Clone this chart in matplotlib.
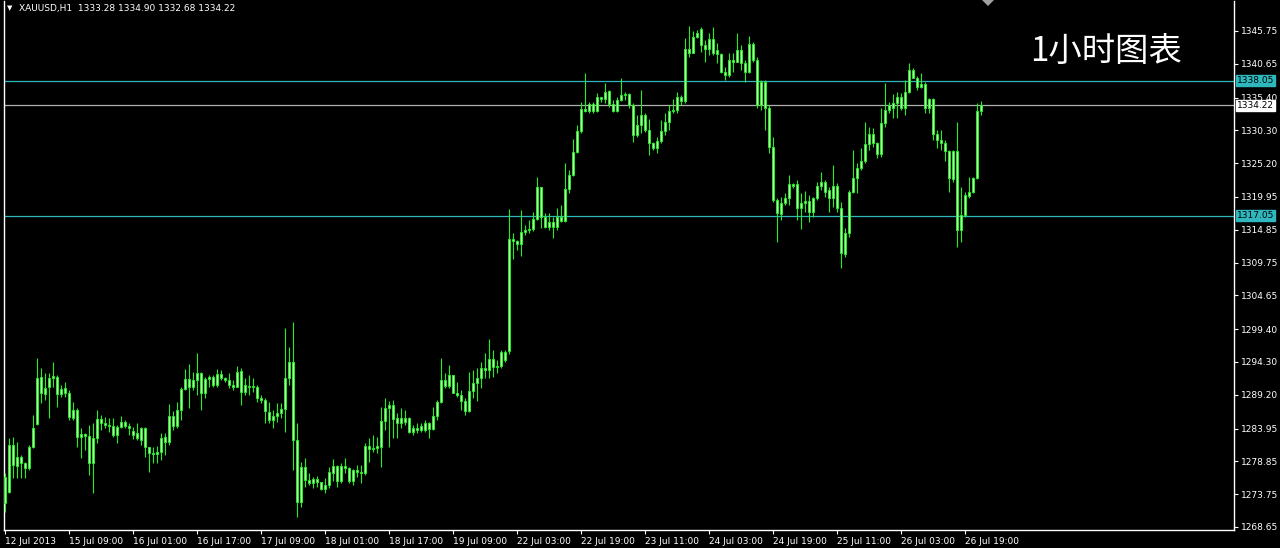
import matplotlib
matplotlib.use("Agg")
import matplotlib.pyplot as plt
from matplotlib.transforms import blended_transform_factory
from matplotlib.patches import Polygon
import numpy as np

# ---------------- data (XAUUSD H1) ----------------
opens = [1272.4,1274.1,1281.4,1279.5,1278.6,1278.6,1277.8,1281.1,1284.7,1291.9,
 1289.3,1290.4,1291.8,1292.0,1289.3,1290.3,1289.5,1285.6,1286.8,1282.6,
 1283.1,1282.8,1278.6,1282.5,1285.4,1284.8,1284.5,1284.3,1282.9,1284.2,
 1285.0,1284.4,1283.6,1282.5,1282.2,1284.0,1281.1,1280.2,1280.0,1280.3,
 1282.6,1281.9,1285.9,1284.3,1286.8,1290.1,1291.7,1290.4,1291.5,1292.6,
 1289.5,1291.7,1292.0,1290.7,1291.8,1291.8,1291.5,1290.7,1290.4,1292.9,
 1289.6,1290.6,1290.4,1290.4,1288.7,1288.4,1286.5,1285.3,1285.9,1286.4,
 1287.0,1291.8,1294.3,1282.2,1272.5,1278.0,1275.9,1275.5,1276.1,1275.6,
 1274.6,1275.2,1277.0,1278.1,1275.8,1278.1,1277.8,1275.8,1277.5,1277.2,
 1277.0,1281.2,1280.8,1281.0,1281.1,1285.1,1287.2,1287.6,1285.6,1284.8,
 1285.6,1285.6,1283.4,1284.0,1283.7,1283.7,1284.8,1283.9,1285.9,1288.1,
 1291.5,1290.6,1292.3,1289.5,1289.2,1288.2,1286.7,1289.8,1291.0,1291.8,
 1293.4,1293.1,1294.8,1293.5,1293.7,1295.9,1296.0,1313.4,1313.1,1312.6,
 1314.5,1314.8,1315.0,1316.5,1321.5,1316.8,1315.3,1316.1,1315.3,1316.2,
 1316.2,1321.2,1323.4,1326.9,1330.2,1333.6,1333.3,1334.4,1333.3,1335.5,
 1335.2,1336.4,1334.4,1333.3,1335.0,1335.8,1336.0,1334.2,1329.6,1331.1,
 1332.7,1330.4,1328.3,1327.6,1328.7,1330.2,1331.6,1333.3,1333.5,1335.5,
 1334.9,1342.9,1342.3,1344.8,1346.0,1343.6,1342.9,1344.5,1342.8,1342.2,
 1339.4,1338.9,1341.2,1341.0,1342.8,1340.8,1339.4,1343.7,1341.3,1334.2,
 1337.8,1333.8,1327.7,1319.5,1317.3,1319.0,1319.8,1321.9,1321.9,1318.2,
 1319.0,1319.3,1317.6,1319.8,1321.7,1322.3,1321.0,1319.8,1321.7,1318.2,
 1311.1,1314.3,1320.7,1322.9,1324.5,1325.5,1328.2,1329.8,1328.3,1326.6,
 1331.5,1333.5,1333.8,1334.6,1335.5,1333.8,1336.3,1339.7,1338.4,1337.0,
 1337.5,1333.8,1335.2,1329.7,1328.8,1328.3,1327.1,1322.7,1327.1,1314.8,
 1317.2,1320.1,1320.7,1322.9,1333.28]
highs = [1277.0,1282.5,1282.6,1281.9,1279.8,1278.7,1281.4,1286.0,1294.9,1293.4,
 1292.6,1292.6,1294.3,1292.3,1290.7,1291.2,1289.9,1288.1,1287.2,1284.0,
 1283.3,1284.5,1284.8,1286.8,1286.0,1285.7,1285.6,1285.6,1284.5,1285.9,
 1285.3,1284.8,1284.2,1284.8,1284.2,1284.2,1281.1,1281.1,1281.2,1283.3,
 1283.3,1287.8,1286.7,1288.1,1290.4,1293.2,1294.0,1292.7,1295.7,1292.7,
 1292.0,1292.3,1292.3,1293.2,1293.1,1292.0,1292.6,1291.5,1293.7,1293.4,
 1291.8,1292.3,1291.8,1290.7,1289.2,1288.7,1288.1,1286.8,1287.9,1287.9,
 1299.6,1296.6,1300.5,1284.8,1278.8,1279.4,1277.0,1276.4,1276.6,1275.6,
 1276.3,1277.9,1279.2,1278.3,1278.6,1279.4,1278.0,1277.7,1278.3,1278.3,
 1281.7,1282.5,1282.9,1282.6,1287.3,1288.7,1288.2,1288.4,1286.4,1287.2,
 1286.8,1285.8,1284.5,1284.8,1284.8,1285.3,1285.0,1287.3,1288.4,1294.9,
 1292.6,1293.8,1292.3,1291.2,1289.9,1288.7,1292.7,1293.1,1293.4,1294.3,
 1295.7,1297.9,1296.2,1294.6,1296.2,1296.2,1318.1,1314.4,1313.3,1317.9,
 1315.6,1316.4,1317.6,1323.1,1321.5,1317.5,1317.5,1316.8,1318.2,1318.7,
 1325.2,1324.1,1328.9,1331.2,1334.7,1339.2,1334.7,1334.7,1336.1,1335.5,
 1337.7,1336.6,1335.0,1335.5,1338.4,1336.3,1336.1,1334.6,1332.7,1336.6,
 1333.0,1332.1,1328.5,1329.3,1331.9,1333.0,1334.2,1335.2,1336.3,1335.8,
 1344.7,1346.5,1345.7,1345.9,1346.4,1344.4,1345.4,1346.4,1343.9,1342.3,
 1340.2,1342.3,1342.3,1345.4,1343.6,1341.2,1345.0,1344.0,1341.7,1338.1,
 1338.1,1334.2,1329.3,1319.8,1319.9,1320.6,1323.4,1322.1,1322.6,1320.6,
 1320.9,1320.2,1320.0,1322.3,1323.8,1322.6,1321.5,1324.9,1322.1,1319.2,
 1315.1,1321.0,1327.2,1325.2,1327.6,1331.6,1330.8,1330.7,1328.5,1333.8,
 1337.7,1334.7,1336.0,1336.3,1336.1,1338.1,1340.8,1340.0,1338.8,1339.2,
 1337.8,1335.3,1335.3,1330.4,1330.4,1328.8,1327.3,1327.3,1331.6,1321.5,
 1320.7,1323.1,1323.1,1334.6,1334.90]
lows = [1271.0,1273.9,1276.3,1276.3,1276.3,1276.3,1277.5,1280.9,1284.5,1287.9,
 1288.4,1285.6,1290.4,1287.3,1288.9,1288.9,1285.3,1285.3,1281.1,1279.4,
 1280.6,1276.7,1273.9,1281.7,1283.7,1284.0,1283.4,1282.6,1281.7,1284.0,
 1284.0,1282.9,1282.3,1282.2,1281.4,1279.5,1277.2,1278.6,1278.6,1279.1,
 1279.8,1281.4,1283.7,1284.0,1285.3,1289.9,1287.1,1289.9,1289.2,1286.8,
 1288.7,1290.4,1290.4,1290.4,1291.5,1291.2,1290.2,1289.9,1290.4,1287.6,
 1289.2,1289.2,1289.6,1288.1,1287.9,1284.8,1284.8,1284.0,1285.0,1285.6,
 1283.4,1290.7,1277.5,1270.2,1271.8,1274.9,1275.2,1274.7,1274.9,1274.4,
 1273.9,1274.7,1275.8,1274.9,1275.5,1277.0,1275.5,1275.2,1276.4,1275.5,
 1276.7,1278.8,1280.3,1280.2,1278.0,1283.7,1281.1,1282.5,1282.5,1284.0,
 1284.5,1283.3,1282.9,1283.3,1283.4,1283.4,1282.5,1283.7,1285.3,1287.9,
 1290.3,1290.3,1289.5,1288.9,1286.8,1286.1,1286.5,1288.7,1288.2,1290.3,
 1291.8,1291.8,1292.0,1292.6,1293.4,1294.3,1295.5,1310.3,1311.7,1310.8,
 1314.0,1314.4,1314.6,1316.4,1315.1,1315.1,1314.8,1313.6,1314.8,1316.1,
 1316.1,1320.6,1323.2,1326.8,1329.9,1333.2,1333.0,1333.0,1333.2,1334.7,
 1334.6,1333.9,1333.2,1333.2,1334.9,1335.0,1333.8,1328.5,1329.3,1329.9,
 1330.0,1326.5,1327.3,1326.8,1328.3,1329.6,1330.4,1333.0,1333.0,1334.2,
 1334.6,1341.7,1342.3,1344.7,1342.5,1340.9,1342.0,1342.0,1340.8,1339.2,
 1338.1,1338.6,1339.4,1340.9,1339.7,1337.8,1339.2,1340.9,1333.8,1333.5,
 1330.4,1326.8,1319.2,1312.9,1316.4,1318.7,1318.7,1321.3,1316.4,1315.0,
 1317.6,1316.1,1316.9,1319.5,1321.0,1320.0,1317.6,1318.4,1317.6,1308.9,
 1310.6,1313.7,1320.6,1320.6,1324.1,1325.2,1327.3,1327.7,1326.0,1326.2,
 1330.8,1333.0,1332.2,1332.2,1333.5,1332.7,1336.1,1338.4,1336.6,1336.9,
 1333.0,1333.0,1328.8,1327.6,1327.3,1325.6,1320.7,1322.3,1312.2,1313.0,
 1316.8,1319.8,1320.5,1322.7,1332.68]
closes = [1276.4,1281.4,1278.3,1278.1,1279.5,1277.8,1281.1,1284.0,1291.8,1289.5,
 1290.3,1291.8,1292.1,1289.3,1290.1,1289.5,1285.8,1286.8,1282.6,1283.1,
 1282.8,1278.6,1282.5,1285.4,1284.8,1284.5,1284.3,1282.9,1284.2,1285.0,
 1284.4,1284.0,1282.9,1283.3,1284.0,1281.1,1280.2,1280.0,1280.3,1282.5,
 1281.9,1285.9,1284.3,1286.8,1290.1,1291.7,1290.4,1291.5,1292.6,1289.5,
 1291.7,1292.0,1290.7,1292.4,1292.4,1291.5,1290.7,1290.4,1292.7,1289.6,
 1290.7,1290.4,1290.5,1288.7,1288.4,1286.7,1285.3,1285.9,1286.4,1287.0,
 1291.8,1294.3,1282.2,1272.5,1278.0,1275.9,1275.5,1276.1,1275.6,1274.6,
 1275.2,1277.2,1278.1,1275.8,1278.1,1277.8,1275.8,1277.5,1277.2,1277.0,
 1281.2,1280.8,1281.0,1281.3,1285.1,1287.2,1287.6,1285.4,1284.8,1285.6,
 1285.0,1283.4,1284.0,1283.7,1284.3,1284.8,1283.9,1285.9,1288.1,1291.5,
 1290.6,1292.3,1289.5,1289.2,1288.2,1286.7,1289.8,1291.0,1291.8,1293.4,
 1293.1,1294.8,1293.5,1293.7,1295.9,1294.6,1313.4,1313.1,1312.6,1314.5,
 1314.8,1315.0,1316.5,1321.5,1316.8,1315.3,1316.1,1315.3,1316.8,1316.8,
 1321.2,1323.4,1326.9,1330.2,1333.6,1333.3,1334.4,1333.3,1335.5,1335.2,
 1336.3,1334.4,1333.3,1335.0,1335.8,1336.0,1334.2,1329.6,1331.1,1332.7,
 1330.4,1328.3,1327.6,1328.7,1330.2,1331.6,1333.3,1333.5,1335.5,1334.9,
 1342.9,1342.3,1344.8,1345.4,1343.6,1342.9,1344.5,1342.3,1342.2,1339.4,
 1338.9,1341.2,1341.0,1342.8,1340.8,1339.4,1343.7,1341.3,1334.2,1337.8,
 1333.8,1327.7,1319.5,1317.5,1319.0,1319.8,1321.9,1321.6,1318.2,1319.0,
 1319.3,1317.6,1319.8,1321.7,1322.3,1320.7,1319.8,1321.7,1318.2,1311.2,
 1314.3,1320.7,1322.9,1324.5,1325.5,1328.2,1329.8,1328.3,1326.6,1331.5,
 1333.5,1334.2,1334.6,1335.5,1333.8,1336.3,1339.7,1338.4,1337.0,1337.5,
 1333.8,1335.2,1329.7,1328.8,1328.3,1327.1,1322.9,1327.1,1314.8,1317.2,
 1320.3,1320.7,1322.9,1333.3,1334.22]

time_labels = ["12 Jul 2013", "15 Jul 09:00", "16 Jul 01:00", "16 Jul 17:00",
               "17 Jul 09:00", "18 Jul 01:00", "18 Jul 17:00", "19 Jul 09:00",
               "22 Jul 03:00", "22 Jul 19:00", "23 Jul 11:00", "24 Jul 03:00",
               "24 Jul 19:00", "25 Jul 11:00", "26 Jul 03:00", "26 Jul 19:00"]
label_step = 16
price_ticks = [1345.75, 1340.65, 1335.40, 1330.30, 1325.20, 1319.95, 1314.85,
               1309.75, 1304.65, 1299.40, 1294.30, 1289.20, 1283.95, 1278.85,
               1273.75, 1268.65]
level_lines = [1338.05, 1317.05]
bid_price = 1334.22
header = "XAUUSD,H1  1333.28 1334.90 1332.68 1334.22"
title_cn = "1小时图表"

# ---------------- figure ----------------
W, H = 1280, 548
fig = plt.figure(figsize=(W / 100, H / 100), dpi=100, facecolor="black")
ax = fig.add_axes([3.5 / W, (H - 530) / H, (1234 - 3.5) / W, (530 - 1) / H])
ax.set_facecolor("black")

GREEN = "#22EE22"
BODY = "#B8FFB0"
CYAN = "#2EB8BE"

x = np.arange(len(opens))
o = np.array(opens); c = np.array(closes)
hi = np.array(highs); lo = np.array(lows)

ax.vlines(x, lo, hi, color=GREEN, linewidth=0.8, zorder=3)
bottoms = np.minimum(o, c)
heights = np.maximum(np.abs(c - o), 0.05)
ax.bar(x, heights, bottom=bottoms, width=0.55, color=BODY,
       edgecolor=GREEN, linewidth=0.7, zorder=4)

for lv in level_lines:
    ax.axhline(lv, color=CYAN, linewidth=0.9, zorder=2)
ax.axhline(bid_price, color="#B0B0B0", linewidth=0.9, zorder=2)

ax.set_xlim(-0.375, 307.25)
ax.set_ylim(1268.18, 1350.41)

for side in ["left", "right", "bottom"]:
    ax.spines[side].set_color("white")
    ax.spines[side].set_linewidth(1.0)
ax.spines["top"].set_visible(False)

ax.yaxis.tick_right()
ax.set_yticks(price_ticks)
ax.set_yticklabels([f"{p:.2f}" for p in price_ticks])
ax.tick_params(axis="y", direction="out", length=3, width=0.8, colors="white",
               labelsize=6.5, pad=2)
ax.set_xticks(np.arange(len(time_labels)) * label_step)
ax.set_xticklabels(time_labels)
for lab in ax.get_xticklabels():
    lab.set_ha("left")
ax.tick_params(axis="x", direction="out", length=3, width=0.8, colors="white",
               labelsize=6.5, pad=2)

# price tags on the right scale
tr = blended_transform_factory(fig.transFigure, ax.transData)
for lv in level_lines:
    ax.text(1237 / W, lv, f"{lv:.2f}", transform=tr, fontsize=6.5, color="black",
            va="center", ha="left", clip_on=False, zorder=10,
            bbox=dict(boxstyle="square,pad=0.12", fc=CYAN, ec=CYAN))
ax.text(1237 / W, bid_price, f"{bid_price:.2f}", transform=tr, fontsize=6.5,
        color="black", va="center", ha="left", clip_on=False, zorder=10,
        bbox=dict(boxstyle="square,pad=0.12", fc="white", ec="white"))

# header
fig.text(7 / W, 1 - 8 / H, "▼", color="white", fontsize=5, va="center", ha="left")
fig.text(19 / W, 1 - 8.5 / H, header, color="white", fontsize=6.5,
         va="center", ha="left")

# chart shift marker
fig.add_artist(Polygon([[982 / W, 1.0], [994 / W, 1.0], [988 / W, 1 - 6 / H]],
                       closed=True, transform=fig.transFigure,
                       facecolor="#A0A0A0", edgecolor="none"))

# Chinese title
fig.text(1030 / W, 1 - 52 / H, title_cn, color="white", fontsize=24,
         family=["Noto Sans CJK SC", "DejaVu Sans"], fontweight="light",
         va="center", ha="left")

fig.savefig("out.png", dpi=100, facecolor="black")
